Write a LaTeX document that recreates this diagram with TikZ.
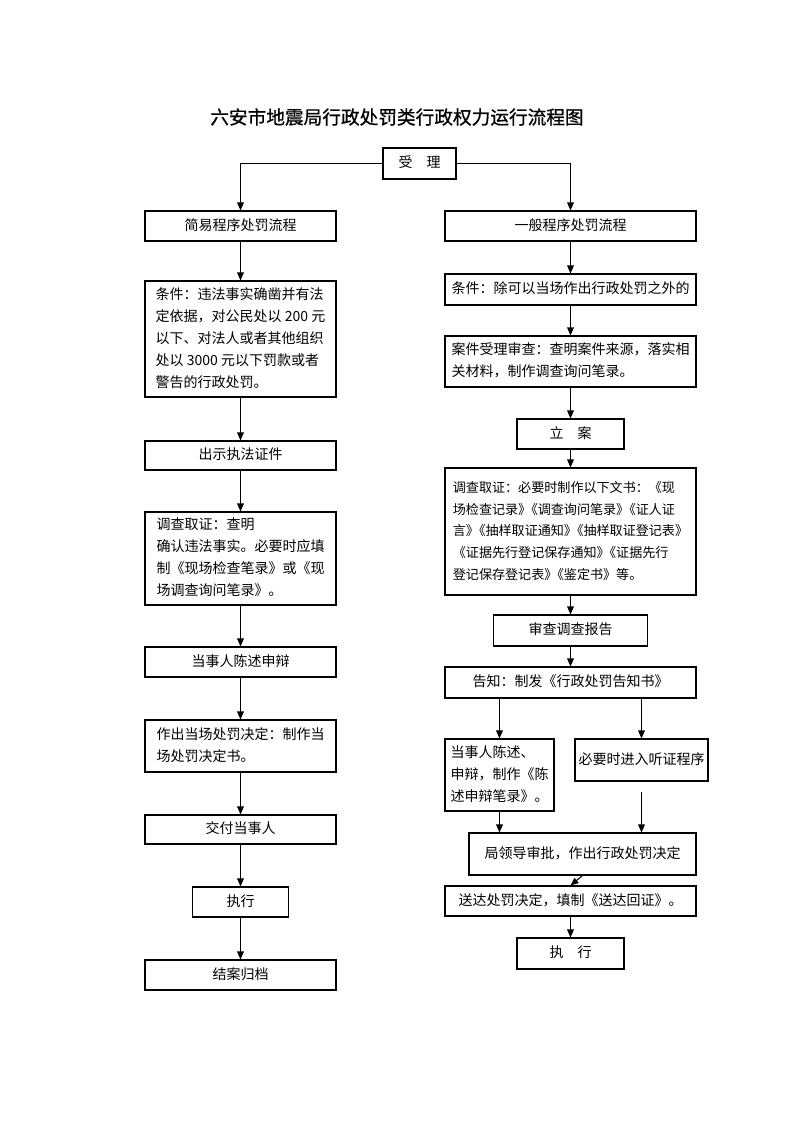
\documentclass[tikz,border=0pt]{standalone}
\usepackage{fontspec}
\setmainfont{Noto Sans CJK SC}
\newfontfamily\titlefont[FakeBold=0.8]{Noto Sans CJK SC}
\usetikzlibrary{arrows.meta}
\newcommand\tl[1]{\begin{tabular}{@{}l@{}}#1\end{tabular}}
\newcommand\jj{》\kern-0.5em《}
\tikzset{
  box/.style={draw,line width=0.8pt,inner sep=0pt,
    font=\fontsize{10.5pt}{16.5pt}\selectfont},
  sz/.style 2 args={minimum width=#1*0.75pt,minimum height=#2*0.75pt},
  arr/.style={line width=0.8pt,-{Triangle[length=6pt,width=5pt]}},
  ttl/.style={font=\titlefont\fontsize{14pt}{16pt}\selectfont}}
\begin{document}
\begin{tikzpicture}[x=0.75pt,y=-0.75pt]
\useasboundingbox[fill=white] (0,0) rectangle (793,1122);
\node[ttl] (title) at (397,117) {六安市地震局行政处罚类行政权力运行流程图};
% top
\node[box,sz={73}{31}] (sl) at (419.5,163.5) {\tl{受\quad 理}};
% left column
\node[box,sz={191}{30}] (s1) at (240.5,226) {\tl{简易程序处罚流程}};
\node[box,sz={191}{116}] (s2) at (240.5,339) {\tl{条件：违法事实确凿并有法\\定依据，对公民处以 200 元\\以下、对法人或者其他组织\\处以 3000 元以下罚款或者\\警告的行政处罚。}};
\node[box,sz={191}{29}] (s3) at (240.5,455.5) {\tl{出示执法证件}};
\node[box,sz={191}{93}] (s4) at (240.5,558.5) {\tl{调查取证：查明\\确认违法事实。必要时应填\\制《现场检查笔录》或《现\\场调查询问笔录》。}};
\node[box,sz={191}{30}] (s5) at (240.5,662) {\tl{当事人陈述申辩}};
\node[box,sz={191}{52}] (s6) at (240.5,746) {\tl{作出当场处罚决定：制作当\\场处罚决定书。}};
\node[box,sz={191}{29}] (s7) at (240.5,829.5) {\tl{交付当事人}};
\node[box,sz={96}{30}] (s8) at (240.5,902) {\tl{执行}};
\node[box,sz={191}{30}] (s9) at (240.5,975) {\tl{结案归档}};
% right column
\node[box,sz={251}{30}] (g1) at (570.5,226) {\tl{一般程序处罚流程}};
\node[box,sz={251}{31}] (g2) at (570.5,289.5) {\tl{条件：除可以当场作出行政处罚之外的}};
\node[box,sz={251}{51}] (g3) at (570.5,361.5) {\tl{案件受理审查：查明案件来源，落实相\\关材料，制作调查询问笔录。}};
\node[box,sz={107}{30}] (g4) at (570.5,434) {\tl{立\quad 案}};
\node[box,sz={251}{127},font=\fontsize{9.8pt}{16.2pt}\selectfont] (g5) at (570.5,531.5) {\tl{调查取证：必要时制作以下文书：《现\\场检查记录\jj 调查询问笔录\jj 证人证\\言\jj 抽样取证通知\jj 抽样取证登记表》\\《证据先行登记保存通知\jj 证据先行\\登记保存登记表\jj 鉴定书》等。}};
\node[box,sz={154}{31}] (g6) at (570.5,630.5) {\tl{审查调查报告}};
\node[box,sz={251}{31}] (g7) at (570.5,682.5) {\tl{告知：制发《行政处罚告知书》}};
\node[box,sz={109}{72}] (g8a) at (499.5,775) {\tl{当事人陈述、\\申辩，制作《陈\\述申辩笔录》。}};
\node[box,sz={133}{42}] (g8b) at (641.5,760) {\tl{必要时进入听证程序}};
\node[box,sz={227}{42}] (g9) at (582.5,854) {\tl{局领导审批，作出行政处罚决定}};
\node[box,sz={251}{30}] (g10) at (570.5,901) {\tl{送达处罚决定，填制《送达回证》。}};
\node[box,sz={107}{31}] (g11) at (570.5,953.5) {\tl{执\quad 行}};
\coordinate (hs) at (641.5,792);
% connectors
\draw[arr] (sl.west) -| (s1.north);
\draw[arr] (sl.east) -| (g1.north);
\draw[arr] (s1.south) -- (s2.north);
\draw[arr] (s2.south) -- (s3.north);
\draw[arr] (s3.south) -- (s4.north);
\draw[arr] (s4.south) -- (s5.north);
\draw[arr] (s5.south) -- (s6.north);
\draw[arr] (s6.south) -- (s7.north);
\draw[arr] (s7.south) -- (s8.north);
\draw[arr] (s8.south) -- (s9.north);
\draw[arr] (g1.south) -- (g2.north);
\draw[arr] (g2.south) -- (g3.north);
\draw[arr] (g3.south) -- (g4.north);
\draw[arr] (g4.south) -- (g5.north);
\draw[arr] (g5.south) -- (g6.north);
\draw[arr] (g6.south) -- (g7.north);
\draw[arr] (g8a.north |- g7.south) -- (g8a.north);
\draw[arr] (g8b.north |- g7.south) -- (g8b.north);
\draw[arr] (g8a.south) -- (g8a.south |- g9.north);
\draw[arr] (hs) -- (hs |- g9.north);
\draw[arr] (g9.south) -- (g10.north);
\draw[arr] (g10.south) -- (g11.north);
\end{tikzpicture}
\end{document}
